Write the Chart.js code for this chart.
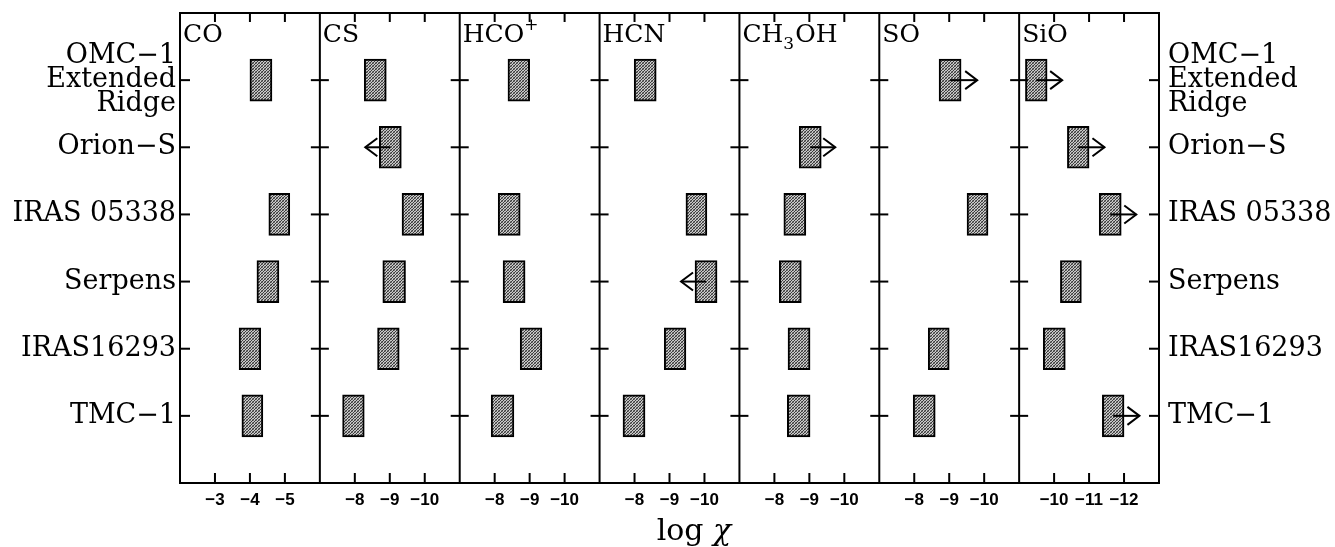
<!DOCTYPE html>
<html><head><meta charset="utf-8">
<script src="https://cdn.jsdelivr.net/npm/chart.js@4.4.1/dist/chart.umd.min.js"></script>
<style>html,body{margin:0;padding:0;background:#fff;}#wrap{width:1335px;height:547px;position:relative;}</style>
</head><body><div id="wrap"><canvas id="c" width="1335" height="547"></canvas></div>
<script>
// ---- data ----
const sources = [['OMC\u22121','Extended','Ridge'], 'Orion\u2212S', 'IRAS 05338', 'Serpens', 'IRAS16293', 'TMC\u22121'];
const molecules = ['CO','CS','HCO+','HCN','CH3OH','SO','SiO'];
// log chi ranges per source (order as sources); null = not shown
const coRange    = [[-4.0,-4.63], null, [-4.54,-5.14], [-4.2,-4.83], [-3.69,-4.31], [-3.77,-4.37]];
const csRange    = [[-8.27,-8.9], [-8.7,-9.33], [-9.35,-9.97], [-8.8,-9.45], [-8.65,-9.27], [-7.65,-8.27]];
const hcopRange  = [[-8.38,-9.0], null, [-8.1,-8.73], [-8.24,-8.87], [-8.73,-9.35], [-7.9,-8.55]];
const hcnRange   = [[-7.99,-8.62], null, [-9.47,-10.07], [-9.73,-10.36], [-8.85,-9.47], [-7.67,-8.3]];
const ch3ohRange = [null, [-8.71,-9.34], [-8.27,-8.9], [-8.14,-8.77], [-8.39,-9.02], [-8.37,-9.02]];
const soRange    = [[-8.71,-9.34], null, [-9.51,-10.11], null, [-8.4,-9.0], [-7.97,-8.6]];
const sioRange   = [[-9.18,-9.8], [-10.38,-11.0], [-11.29,-11.92], [-10.18,-10.78], [-9.69,-10.32], [-11.38,-12.0]];
// limit arrows: tip position in log chi; null = no arrow
const coLimit    = [null,null,null,null,null,null];
const csLimit    = [null,-8.3,null,null,null,null];
const hcopLimit  = [null,null,null,null,null,null];
const hcnLimit   = [null,null,null,-9.33,null,null];
const ch3ohLimit = [null,-9.74,null,null,null,null];
const soLimit    = [-9.8,null,null,null,null,null];
const sioLimit   = [-10.23,-11.44,-12.35,null,null,-12.44];
// axes
const axisLeft  = [-2,-7,-7,-7,-7,-7,-9];
const axisRight = [-6,-11,-11,-11,-11,-11,-13];
const tickValues = [[-3,-4,-5],[-8,-9,-10],[-8,-9,-10],[-8,-9,-10],[-8,-9,-10],[-8,-9,-10],[-10,-11,-12]];
const axisTitle = ['log ', '\u03c7'];

const ranges = [coRange,csRange,hcopRange,hcnRange,ch3ohRange,soRange,sioRange];
const limits = [coLimit,csLimit,hcopLimit,hcnLimit,ch3ohLimit,soLimit,sioLimit];
const titleParts = [[['CO',0]],[['CS',0]],[['HCO',0],['+',1]],[['HCN',0]],[['CH',0],['3',-1],['OH',0]],[['SO',0]],[['SiO',0]]];
const yLabels = ['', ...sources, ''];

function stipple(){
  const c=document.createElement('canvas'); c.width=3; c.height=3;
  const g=c.getContext('2d');
  g.fillStyle='#c8c8c8'; g.fillRect(0,0,3,3);
  g.fillStyle='#3a3a3a'; g.fillRect(0,0,1,1); g.fillRect(2,1,1,1); g.fillRect(1,2,1,1);
  g.fillStyle='#808080'; g.fillRect(1,0,1,1); g.fillRect(0,2,1,1);
  return g.createPattern(c,'repeat');
}
const pat = stipple();
const SERIF = "'DejaVu Serif', serif";

const datasets = molecules.map((m,i)=>({
  type:'bar', label:m, xAxisID:'x'+i, yAxisID:'y', grouped:false,
  data:[null, ...ranges[i], null],
  backgroundColor:pat, borderColor:'#000', borderWidth:2, borderSkipped:false,
  barThickness:42
}));

const scales = {};
molecules.forEach((m,i)=>{
  scales['x'+i] = {
    type:'linear', axis:'x', position:'bottom', stack:'mol', stackWeight:1,
    min:axisRight[i], max:axisLeft[i], reverse:true,
    grid:{display:false, drawTicks:false}, border:{display:false},
    afterBuildTicks:s=>{ s.ticks = tickValues[i].map(v=>({value:v})); },
    afterFit:s=>{ s.height = 64; s.paddingLeft=0; s.paddingRight=0; },
    ticks:{color:'#000', padding:7, autoSkip:false, maxRotation:0,
      font:{family:"'Liberation Sans', Arial, sans-serif", size:17, weight:'bold'},
      callback:v=>'\u2212'+Math.abs(v)}
  };
});
const yFont = {family:SERIF, size:27, lineHeight:0.9};
scales.y = {type:'category', labels:yLabels, offset:false, position:'left',
  grid:{display:false, drawTicks:false}, border:{display:false},
  afterFit:s=>{ s.width = 180; s.paddingTop=0; s.paddingBottom=0; },
  ticks:{color:'#000', padding:4, autoSkip:false, font:yFont}};
scales.y2 = {type:'category', labels:yLabels, offset:false, position:'right',
  grid:{display:false, drawTicks:false}, border:{display:false},
  afterFit:s=>{ s.width = 176; s.paddingTop=0; s.paddingBottom=0; },
  ticks:{color:'#000', padding:9, autoSkip:false, font:yFont}};

const decor = {
  id:'decor',
  afterDatasetsDraw(chart){
    const ctx=chart.ctx, a=chart.chartArea, ys=chart.scales.y;
    ctx.save();
    ctx.strokeStyle='#000'; ctx.lineWidth=2; ctx.lineCap='butt';
    // limit arrows
    molecules.forEach((m,i)=>{
      const xs=chart.scales['x'+i];
      limits[i].forEach((tip,k)=>{
        if(tip==null||!ranges[i][k]) return;
        const r=ranges[i][k];
        const x0=xs.getPixelForValue((r[0]+r[1])/2), x1=xs.getPixelForValue(tip), y=ys.getPixelForValue(k+1);
        const d=Math.sign(x1-x0);
        ctx.beginPath(); ctx.moveTo(x0,y); ctx.lineTo(x1,y); ctx.stroke();
        ctx.beginPath(); ctx.moveTo(x1-d*12,y-9); ctx.lineTo(x1,y); ctx.lineTo(x1-d*12,y+9); ctx.stroke();
      });
    });
    // frame
    ctx.strokeRect(a.left,a.top,a.right-a.left,a.bottom-a.top);
    molecules.forEach((m,i)=>{
      const xs=chart.scales['x'+i];
      if(i>0){ ctx.beginPath(); ctx.moveTo(xs.left,a.top); ctx.lineTo(xs.left,a.bottom); ctx.stroke(); }
      tickValues[i].forEach(v=>{
        const x=xs.getPixelForValue(v);
        ctx.beginPath(); ctx.moveTo(x,a.top); ctx.lineTo(x,a.top+9); ctx.stroke();
        ctx.beginPath(); ctx.moveTo(x,a.bottom); ctx.lineTo(x,a.bottom-10); ctx.stroke();
      });
      // y ticks
      for(let k=1;k<=sources.length;k++){
        const y=ys.getPixelForValue(k);
        const xl=xs.left;
        ctx.beginPath();
        if(i===0){ ctx.moveTo(xl,y); ctx.lineTo(xl+10,y); }
        else { ctx.moveTo(xl-9,y); ctx.lineTo(xl+9,y); }
        ctx.stroke();
        if(i===molecules.length-1){ ctx.beginPath(); ctx.moveTo(xs.right-10,y); ctx.lineTo(xs.right,y); ctx.stroke(); }
      }
      // panel title
      let tx=xs.left+3; const base=a.top+29;
      ctx.fillStyle='#000'; ctx.textBaseline='alphabetic'; ctx.textAlign='left';
      titleParts[i].forEach(([t,s])=>{
        ctx.font = s===0 ? "25px "+SERIF : "17px "+SERIF;
        const yy = s===0 ? base : (s>0 ? base-12 : base+7);
        ctx.fillText(t,tx,yy); tx+=ctx.measureText(t).width + (s!==0?1:0);
      });
    });
    // axis title
    ctx.font="30px "+SERIF;
    const w1=ctx.measureText(axisTitle[0]).width;
    ctx.font="italic 30px "+SERIF;
    const w2=ctx.measureText(axisTitle[1]).width;
    const cx=694, x0=cx-(w1+w2)/2;
    ctx.font="30px "+SERIF; ctx.fillText(axisTitle[0],x0,540);
    ctx.font="italic 30px "+SERIF; ctx.fillText(axisTitle[1],x0+w1,540);
    ctx.restore();
  }
};

new Chart(document.getElementById('c'),{
  type:'bar',
  data:{labels:yLabels, datasets},
  options:{
    indexAxis:'y', responsive:false, animation:false, devicePixelRatio:1,
    layout:{padding:{top:13,left:0,right:0,bottom:0}},
    plugins:{legend:{display:false}, tooltip:{enabled:false}, title:{display:false}},
    scales
  },
  plugins:[decor]
});
</script></body></html>
